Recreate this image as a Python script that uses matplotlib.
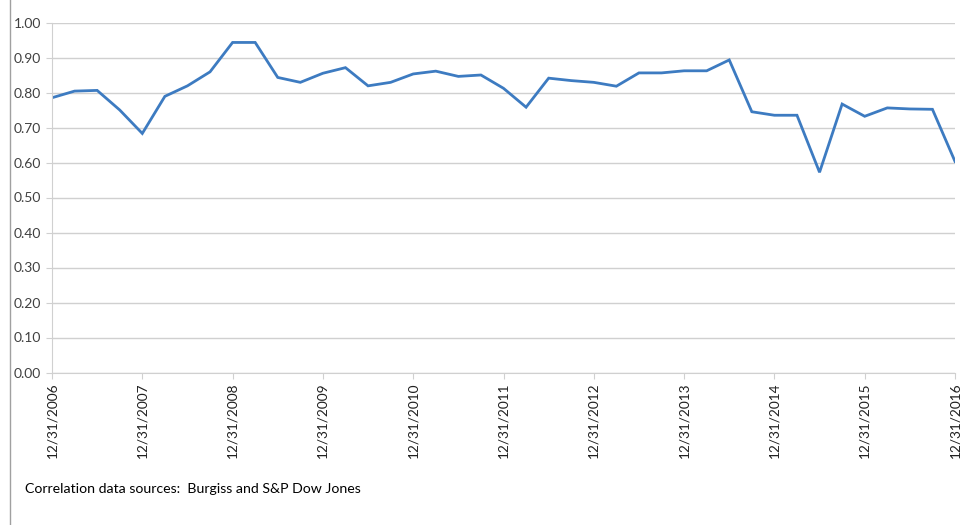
import matplotlib
matplotlib.use("Agg")
import matplotlib.pyplot as plt
from matplotlib.lines import Line2D

# Quarterly correlation, 12/31/2006 .. 12/31/2016
correlation = [0.785, 0.804, 0.806, 0.750, 0.683, 0.789, 0.819, 0.859, 0.943, 0.943,
               0.843, 0.829, 0.855, 0.871, 0.819, 0.829, 0.853, 0.861, 0.846, 0.850,
               0.812, 0.758, 0.841, 0.834, 0.829, 0.818, 0.856, 0.856, 0.862, 0.862,
               0.893, 0.745, 0.735, 0.735, 0.572, 0.767, 0.732, 0.756, 0.753, 0.752,
               0.603]
year_labels = ["12/31/2006", "12/31/2007", "12/31/2008", "12/31/2009", "12/31/2010",
               "12/31/2011", "12/31/2012", "12/31/2013", "12/31/2014", "12/31/2015",
               "12/31/2016"]
y_ticks = [0.0, 0.1, 0.2, 0.3, 0.4, 0.5, 0.6, 0.7, 0.8, 0.9, 1.0]
source_text = "Correlation data sources:  Burgiss and S&P Dow Jones"

plt.rcParams['font.family'] = ['Lato', 'DejaVu Sans']

fig = plt.figure(figsize=(9.6, 5.25), dpi=100)
W, H = 960, 525
ax = fig.add_axes([52 / W, (H - 372.5) / H, 903 / W, 350 / H])

quarters = list(range(len(correlation)))
ax.plot(quarters, correlation, color='#3d7bc1', lw=2.0, solid_joinstyle='miter')

ax.set_xlim(0, len(correlation) - 1)
ax.set_ylim(0, 1.0)
ax.set_yticks(y_ticks)
ax.set_yticklabels([f"{v:.2f}" for v in y_ticks], fontsize=10, color='#404040')
ax.set_xticks(list(range(0, len(correlation), 4)))
ax.set_xticklabels(year_labels, rotation=90, fontsize=9.8, color='#202020')
ax.grid(axis='y', color='#d0d0d0', lw=1.0)
ax.set_axisbelow(True)
for s in ['top', 'right']:
    ax.spines[s].set_visible(False)
ax.spines['left'].set_color('#d0d0d0')
ax.spines['bottom'].set_color('#d0d0d0')
ax.tick_params(axis='y', length=4, color='#d0d0d0', pad=4)
ax.tick_params(axis='x', length=4, color='#d0d0d0', pad=3)

fig.text(25 / W, 1 - 489 / H, source_text, fontsize=10.2, color='#000000', va='center')
fig.add_artist(Line2D([10 / W, 10 / W], [0, 1], transform=fig.transFigure,
                      color='#a0a0a0', lw=1.0))

fig.savefig("out.png", dpi=100)
